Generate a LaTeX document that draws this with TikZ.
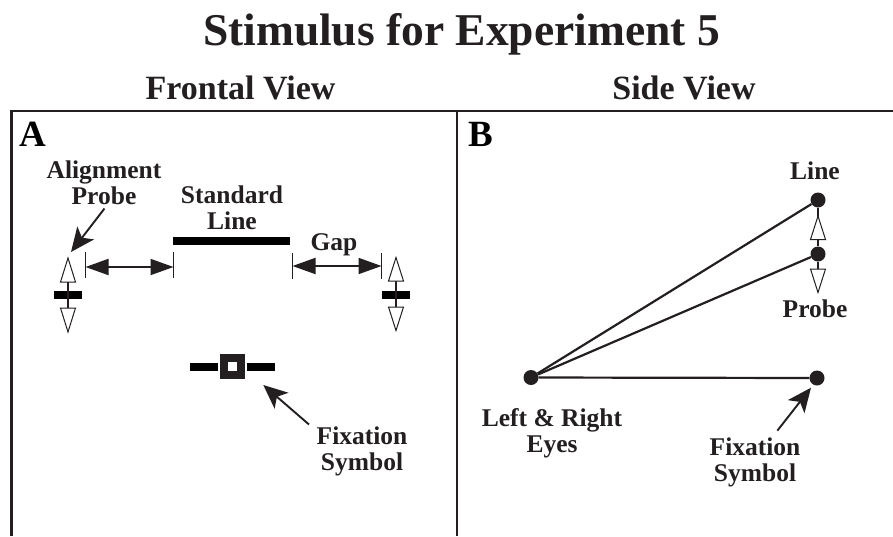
\documentclass[tikz,border=0pt]{standalone}
\usepackage{fontspec}
\setmainfont{Liberation Serif}
\usetikzlibrary{arrows.meta}
\definecolor{ink}{HTML}{231F20}
\tikzset{
  x=1pt,y=-1pt,
  frame/.style={ink,line width=2.7pt,line cap=butt},
  lab/.style={font=\fontsize{25.5}{26}\selectfont\bfseries,text=ink,align=center,inner sep=0pt},
  sub/.style={font=\fontsize{34}{34}\selectfont\bfseries,text=ink,inner sep=0pt},
  ttl/.style={font=\fontsize{45.5}{46}\selectfont\bfseries,text=ink,inner sep=0pt},
  letter/.style={font=\fontsize{37}{37}\selectfont\bfseries,text=black,inner sep=0pt},
  bar/.style={fill=black,draw=none,minimum height=8pt,inner sep=0pt},
  tick/.style={ink,line width=1.5pt},
  thin/.style={ink,line width=1.5pt},
  gap/.style={ink,line width=1.9pt,{Triangle[length=23pt,width=16pt]}-{Triangle[length=23pt,width=16pt]}},
  call/.style={ink,line width=1.9pt,-{Stealth[length=24pt,width=21pt,inset=6pt]}},
  hollow/.style={fill=white,draw=ink,line width=1pt,line join=miter},
  dot/.style={circle,fill=ink,draw=none,minimum size=15pt,inner sep=0pt},
}
\newcommand{\upH}[3]{\draw[hollow] (#1,#2) -- (#1-7.5,#3) -- (#1+7.5,#3) -- cycle;}
\begin{document}
\begin{tikzpicture}
\useasboundingbox (0,0) rectangle (893,536);
\fill[white] (0,0) rectangle (893,536);
% titles
\node[ttl] (title) at (461.5,34) {Stimulus for Experiment 5};
\node[sub] (front) at (240.5,88) {Frontal View};
\node[sub] (side) at (684,88) {Side View};
% frame
\coordinate (tl) at (11.5,111); \coordinate (tr) at (893,111);
\coordinate (bl) at (11.5,536); \coordinate (dt) at (457,111); \coordinate (db) at (457,536);
\draw[frame] (bl) -- (tl) -- (tr);
\draw[frame] (dt) -- (db);
\node[letter] (A) at (33,134) {A};
\node[letter] (B) at (481,134) {B};
% panel A labels
\node[lab] (align) at (104,183) {Alignment\\Probe};
\node[lab] (std) at (232,208) {Standard\\Line};
\node[lab] (gaplbl) at (334,245) {Gap};
\node[lab] (fixA) at (362,451) {Fixation\\Symbol};
% standard line
\node[bar,minimum width=117pt] (stdline) at (231.5,240.5) {};
% gaps
\coordinate (g1a) at (85.5,252); \coordinate (g1b) at (85.5,278);
\coordinate (g2a) at (173.5,252); \coordinate (g2b) at (173.5,278);
\draw[tick] (g1a) -- (g1b); \draw[tick] (g2a) -- (g2b);
\coordinate (g1l) at (85.5,267); \coordinate (g1r) at (173.5,267);
\draw[gap] (g1l) -- (g1r);
\coordinate (g3a) at (292.5,253); \coordinate (g3b) at (292.5,279);
\coordinate (g4a) at (381.5,253); \coordinate (g4b) at (381.5,279);
\draw[tick] (g3a) -- (g3b); \draw[tick] (g4a) -- (g4b);
\coordinate (g3l) at (292.5,266); \coordinate (g3r) at (381.5,266);
\draw[gap] (g3l) -- (g3r);
% left probe
\node[bar,minimum width=28pt] (barL) at (68,294.5) {};
\coordinate (pLa) at (68,282); \coordinate (pLb) at (68,308);
\draw[thin] (pLa) -- (pLb);
\upH{68}{258}{282}
\upH{68}{332}{308}
% right probe
\node[bar,minimum width=28pt] (barR) at (396,294.5) {};
\coordinate (pRa) at (396,281); \coordinate (pRb) at (396,307);
\draw[thin] (pRa) -- (pRb);
\upH{396}{257.5}{281}
\upH{396}{330.5}{307}
% callout
\coordinate (c1s) at (104.5,208.5); \coordinate (c1e) at (71,252);
\draw[call] (c1s) -- (c1e);
% fixation symbol
\node[bar,minimum width=28pt] (fxL) at (204,366.5) {};
\node[bar,minimum width=28pt] (fxR) at (261,366.5) {};
\node[fill=ink,minimum size=25.5pt,inner sep=0pt] (fxS) at (232.3,366.3) {};
\node[fill=white,minimum size=9pt,inner sep=0pt] (fxI) at (fxS.center) {};
\coordinate (c2s) at (309,424.5); \coordinate (c2e) at (263.3,385);
\draw[call] (c2s) -- (c2e);
% panel B
\node[dot] (eye) at (531,377.5) {};
\node[dot] (line) at (818,200) {};
\node[dot] (probe) at (818,254) {};
\node[dot] (fix) at (817,378) {};
\draw[ink,line width=2.2pt] (eye) -- (line);
\draw[ink,line width=2.2pt] (eye) -- (probe);
\draw[ink,line width=2.2pt] (eye) -- (fix);
\draw[thin] (line) -- (probe);
\draw[thin] (probe.south) -- ++(0,16);
\upH{818}{216}{239.5}
\upH{818}{292.5}{269}
\node[lab] (lineL) at (815,171) {Line};
\node[lab] (probeL) at (815,309) {Probe};
\node[lab] (eyes) at (552,433) {Left \& Right\\Eyes};
\node[lab] (fixB) at (755,462) {Fixation\\Symbol};
\coordinate (c3s) at (777.3,430.7); \coordinate (c3e) at (811,387.7);
\draw[call] (c3s) -- (c3e);
\end{tikzpicture}
\end{document}
